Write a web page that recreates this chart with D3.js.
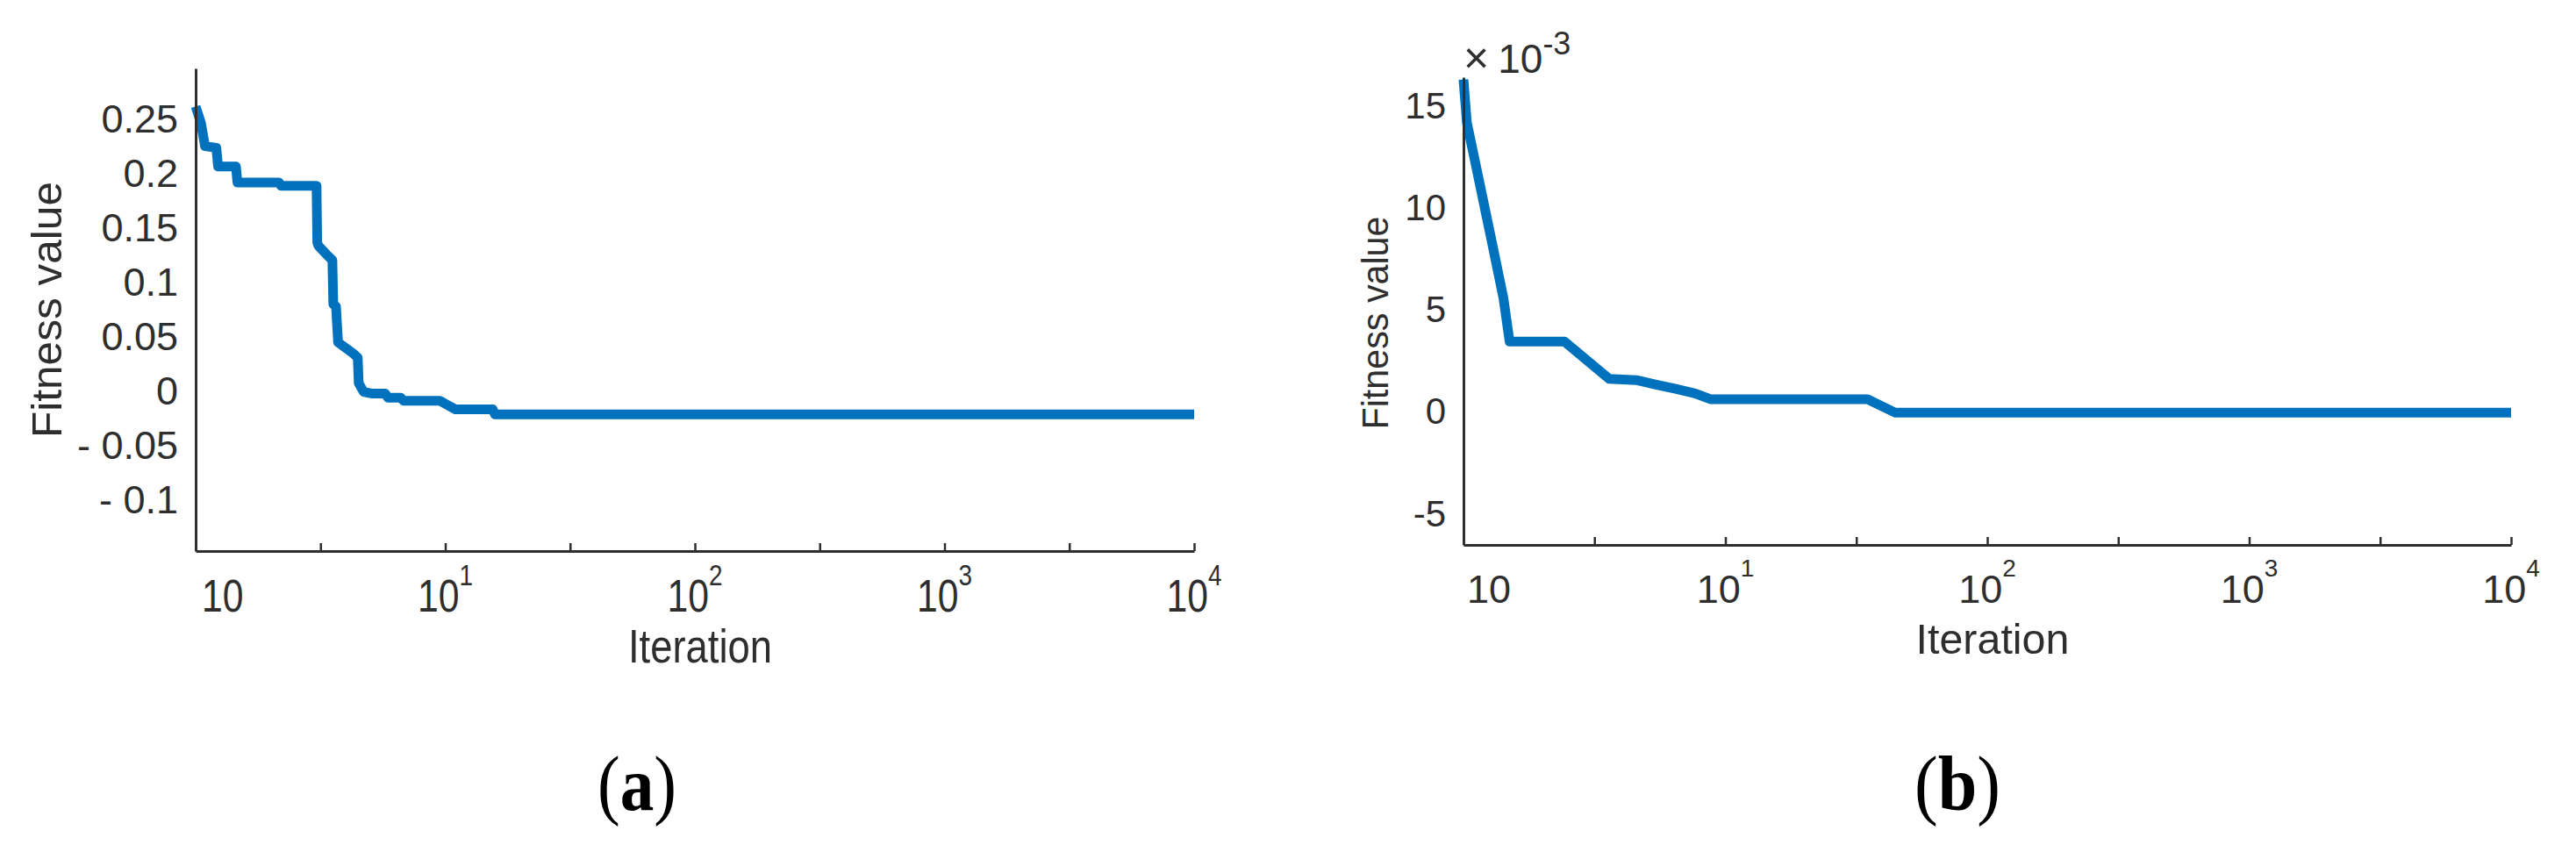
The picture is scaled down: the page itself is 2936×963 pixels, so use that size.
<!DOCTYPE html>
<html>
<head>
<meta charset="utf-8">
<script src="https://cdn.jsdelivr.net/npm/d3@7"></script>
<style>
  body { margin: 0; background: #fff; }
  svg { display: block; font-family: "Liberation Sans", Arial, sans-serif; }
</style>
</head>
<body>
<svg id="chart" width="2936" height="963"></svg>
<script>
// panel (a): best fitness per iteration
var iterA = [1, 1.05, 1.09, 1.21, 1.23, 1.45, 1.47, 2.16, 2.2, 3.05, 3.07, 3.1, 3.34, 3.53, 3.56, 3.65,
             3.72, 3.93, 4.29, 4.46, 4.5, 4.71, 5.06, 5.74, 5.9, 6.64, 6.8, 9.5, 11.0, 15.5, 15.8, 10000];
var fitA = [0.262, 0.247, 0.2255, 0.224, 0.2067, 0.2067, 0.192, 0.192, 0.189, 0.189, 0.137, 0.134, 0.126, 0.1206, 0.080, 0.078,
            0.045, 0.041, 0.0345, 0.031, 0.0075, -0.0006, -0.002, -0.002, -0.006, -0.006, -0.0087, -0.0087, -0.0167, -0.0167, -0.0212, -0.0212];
var yTicksA = [-0.1, -0.05, 0, 0.05, 0.1, 0.15, 0.2, 0.25];
var yLabelsA = ["- 0.1", "- 0.05", "0", "0.05", "0.1", "0.15", "0.2", "0.25"];

// panel (b)
var iterB = [1, 1.03, 1.14, 1.28, 1.42, 1.5, 2.43, 3.6, 4.57, 5.44, 6.46, 7.66, 8.81, 34.9, 44.4, 10000];
var fitB = [0.0163, 0.0142, 0.0115, 0.0084, 0.0056, 0.00345, 0.00345, 0.00162, 0.00156, 0.00134, 0.00113, 0.00091, 0.00062, 0.00062, -0.00003, -0.00003];
var yTicksB = [-0.005, 0, 0.005, 0.01, 0.015];
var yLabelsB = ["-5", "0", "5", "10", "15"];

var xTicks = [1, 10, 100, 1000, 10000];
var xLabels = ["10", "10|1", "10|2", "10|3", "10|4"];
var xMinor = [1, Math.sqrt(10), 10, Math.sqrt(1000), 100, Math.sqrt(100000), 1000, Math.sqrt(10000000), 10000];

var svg = d3.select("#chart");
var ink = "#2e2e2e";
var blue = "#0072bd";

var panels = [
  {iter: iterA, fit: fitA, yTicks: yTicksA, yLabels: yLabelsA,
   x0: 223, x1: 1361, yTop: 78, yBot: 628, yDomain: [-0.147, 0.297],
   yFont: 45, xFont: 52, xSqueeze: 0.82, supFont: 34, xLabY: 697, firstDx: 7,
   yTitle: {x: 70, y: 353, size: 48, len: 292},
   xTitle: {x: 798, y: 755, size: 53, len: 164},
   tag: {x: 726, y: 923, letter: "a", len: 90}},
  {iter: iterB, fit: fitB, yTicks: yTicksB, yLabels: yLabelsB,
   x0: 1668, x1: 2862, yTop: 88, yBot: 621, yDomain: [-0.00652, 0.01641],
   yFont: 42, xFont: 45, xSqueeze: 1, supFont: 28, xLabY: 687, firstDx: 4,
   yTitle: {x: 1582, y: 368, size: 43, len: 243},
   xTitle: {x: 2271, y: 745, size: 49, len: 175},
   tag: {x: 2231, y: 923, letter: "b", len: 98}}
];

panels.forEach(function(p) {
  var x = d3.scaleLog().domain([1, 10000]).range([p.x0, p.x1]);
  var y = d3.scaleLinear().domain(p.yDomain).range([p.yBot, p.yTop]);
  var g = svg.append("g");

  var pts = p.iter.map(function(d, i) { return [d, p.fit[i]]; });
  var line = d3.line()
    .x(function(d) { return x(d[0]); })
    .y(function(d) { return y(d[1]); });

  g.append("path")
    .datum(pts)
    .attr("d", line)
    .attr("fill", "none")
    .attr("stroke", blue)
    .attr("stroke-width", 11)
    .attr("stroke-linejoin", "round");

  // x axis: ticks every half decade, drawn inward
  var xa = g.append("g")
    .attr("transform", "translate(0," + p.yBot + ")")
    .call(d3.axisBottom(x).tickValues(xMinor).tickSizeInner(-9).tickSizeOuter(0).tickFormat(""));
  xa.select(".domain").attr("stroke", ink).attr("stroke-width", 3);
  xa.selectAll(".tick line").attr("stroke", ink).attr("stroke-width", 2.5);

  // y axis: labels only, no tick marks
  var ya = g.append("g")
    .attr("transform", "translate(" + p.x0 + ",0)")
    .call(d3.axisLeft(y).tickValues(p.yTicks).tickSize(0).tickPadding(20)
      .tickFormat(function(d, i) { return p.yLabels[i]; }));
  ya.select(".domain").attr("stroke", ink).attr("stroke-width", 3);
  ya.selectAll(".tick text")
    .attr("fill", ink)
    .style("font-size", p.yFont + "px")
    .style("font-family", "'Liberation Sans', Arial, sans-serif");

  // x tick labels with superscripts
  xTicks.forEach(function(t, i) {
    var parts = xLabels[i].split("|");
    var first = i === 0;
    var tx = first ? x(t) + p.firstDx : x(t);
    var txt = g.append("text")
      .attr("transform", "translate(" + tx + "," + p.xLabY + ") scale(" + p.xSqueeze + ",1)")
      .attr("text-anchor", first ? "start" : "middle")
      .attr("fill", ink)
      .style("font-size", p.xFont + "px");
    txt.append("tspan").text(parts[0]);
    if (parts[1]) {
      txt.append("tspan")
        .attr("dy", -30)
        .style("font-size", p.supFont + "px")
        .text(parts[1]);
    }
  });

  g.append("text")
    .attr("x", p.xTitle.x)
    .attr("y", p.xTitle.y)
    .attr("text-anchor", "middle")
    .attr("fill", ink)
    .attr("textLength", p.xTitle.len)
    .attr("lengthAdjust", "spacingAndGlyphs")
    .style("font-size", p.xTitle.size + "px")
    .text("Iteration");

  g.append("text")
    .attr("transform", "translate(" + p.yTitle.x + "," + p.yTitle.y + ") rotate(-90)")
    .attr("text-anchor", "middle")
    .attr("fill", ink)
    .attr("textLength", p.yTitle.len)
    .attr("lengthAdjust", "spacingAndGlyphs")
    .style("font-size", p.yTitle.size + "px")
    .text("Fitness value");

  var tag = g.append("text")
    .attr("x", p.tag.x)
    .attr("y", p.tag.y)
    .attr("text-anchor", "middle")
    .attr("fill", "#000")
    .attr("textLength", p.tag.len)
    .attr("lengthAdjust", "spacingAndGlyphs")
    .style("font-family", "'Liberation Serif', 'Times New Roman', serif")
    .style("font-size", "88px");
  tag.append("tspan").text("(");
  tag.append("tspan").style("font-weight", "bold").text(p.tag.letter);
  tag.append("tspan").text(")");
});

// exponent marker for panel (b)
var expo = svg.append("text")
  .attr("x", 1668)
  .attr("y", 83)
  .attr("fill", ink);
expo.append("tspan").style("font-size", "50px").text("\u00d7");
expo.append("tspan").attr("dx", 10).style("font-size", "46px").text("10");
expo.append("tspan").attr("dy", -21).style("font-size", "36px").text("-3");
</script>
</body>
</html>
